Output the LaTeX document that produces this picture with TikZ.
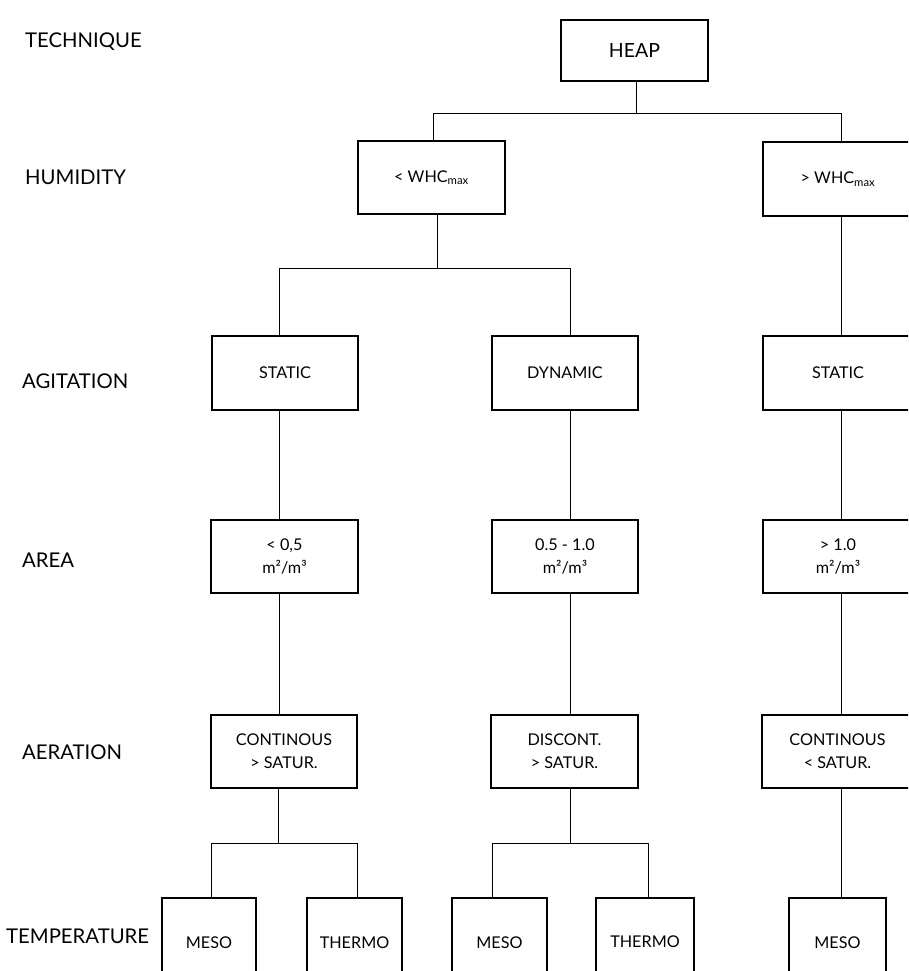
\documentclass[tikz,border=0pt]{standalone}
\usepackage{fontspec}
\setmainfont{Lato}
\begin{document}
\begin{tikzpicture}[x=1pt,y=-1pt,
  box/.style={draw=black,line width=1.1pt,inner sep=0pt,align=center,font=\fontsize{16.2}{23}\selectfont},
  lbl/.style={anchor=west,inner sep=0pt,font=\fontsize{20.3}{22}\selectfont},
  conn/.style={draw=black,line width=0.9pt}]
\clip (0,0) rectangle (908,971);
\fill[white] (0,0) rectangle (908,971);
% labels
\node[lbl] (lt) at (25,42) {TECHNIQUE};
\node[lbl] (lh) at (25,177) {HUMIDITY};
\node[lbl] (lg) at (22,381) {AGITATION};
\node[lbl] (la) at (22,560) {AREA};
\node[lbl] (le) at (22,752) {AERATION};
\node[lbl] (ltp) at (6,936) {TEMPERATURE};
% column coordinates
\coordinate (c1) at (279,0);
\coordinate (c2) at (570,0);
\coordinate (c3) at (841,0);
% boxes
\node[box,minimum width=147,minimum height=61,font=\fontsize{19.5}{22}\selectfont] (heap) at (634.5,50.5) {HEAP};
\node[box,minimum width=147,minimum height=73] (whcl) at (431.5,177.5) {< WHC\textsubscript{max}};
\node[box,minimum width=150,minimum height=74] (whcr) at (838,179) {> WHC\textsubscript{max}};
\node[box,minimum width=146,minimum height=74] (stat1) at (285,373) {STATIC};
\node[box,minimum width=146,minimum height=74] (dyn) at (565,373) {DYNAMIC};
\node[box,minimum width=150,minimum height=74] (stat2) at (838,373) {STATIC};
\node[box,minimum width=147,minimum height=73] (area1) at (284.5,556.5) {< 0,5\\m²/m³};
\node[box,minimum width=146,minimum height=73] (area2) at (565,556.5) {0.5 - 1.0\\m²/m³};
\node[box,minimum width=150,minimum height=73] (area3) at (838,556.5) {> 1.0\\m²/m³};
\node[box,minimum width=146,minimum height=73] (aer1) at (284,751.5) {CONTINOUS\\> SATUR.};
\node[box,minimum width=147,minimum height=73] (aer2) at (564.5,751.5) {DISCONT.\\> SATUR.};
\node[box,minimum width=151,minimum height=73] (aer3) at (837.5,751.5) {CONTINOUS\\< SATUR.};
\node[box,minimum width=94,minimum height=90] (meso1) at (209,943) {MESO};
\node[box,minimum width=95,minimum height=90] (thermo1) at (354.5,943) {THERMO};
\node[box,minimum width=95,minimum height=90] (meso2) at (499.5,943) {MESO};
\node[box,minimum width=98,minimum height=90] (thermo2) at (645,943) {\raisebox{3pt}{THERMO}};
\node[box,minimum width=97,minimum height=90] (meso3) at (837.5,943) {MESO};
% junctions
\coordinate (j0) at (636,113);
\coordinate (j1) at (437,268);
\coordinate (j2) at (278,843);
\coordinate (j3) at (570,843);
% connectors
\draw[conn] ([xshift=1.5pt]heap.south) -- (j0) -| ([xshift=1.5pt]whcl.north);
\draw[conn] (j0) -| (whcr.north -| c3);
\draw[conn] ([xshift=5.5pt]whcl.south) -- (j1) -| (stat1.north -| c1);
\draw[conn] (j1) -| (dyn.north -| c2);
\draw[conn] (whcr.south -| c3) -- (stat2.north -| c3);
\draw[conn] (stat1.south -| c1) -- (area1.north -| c1);
\draw[conn] (dyn.south -| c2) -- (area2.north -| c2);
\draw[conn] (stat2.south -| c3) -- (area3.north -| c3);
\draw[conn] (area1.south -| c1) -- (aer1.north -| c1);
\draw[conn] (area2.south -| c2) -- (aer2.north -| c2);
\draw[conn] (area3.south -| c3) -- (aer3.north -| c3);
\draw[conn] (aer1.south -| j2) -- (j2) -| ([xshift=2pt]meso1.north);
\draw[conn] (j2) -| ([xshift=2.5pt]thermo1.north);
\draw[conn] (aer2.south -| j3) -- (j3) -| ([xshift=-7.5pt]meso2.north);
\draw[conn] (j3) -| ([xshift=3pt]thermo2.north);
\draw[conn] (aer3.south -| c3) -- (meso3.north -| c3);
\end{tikzpicture}
\end{document}
